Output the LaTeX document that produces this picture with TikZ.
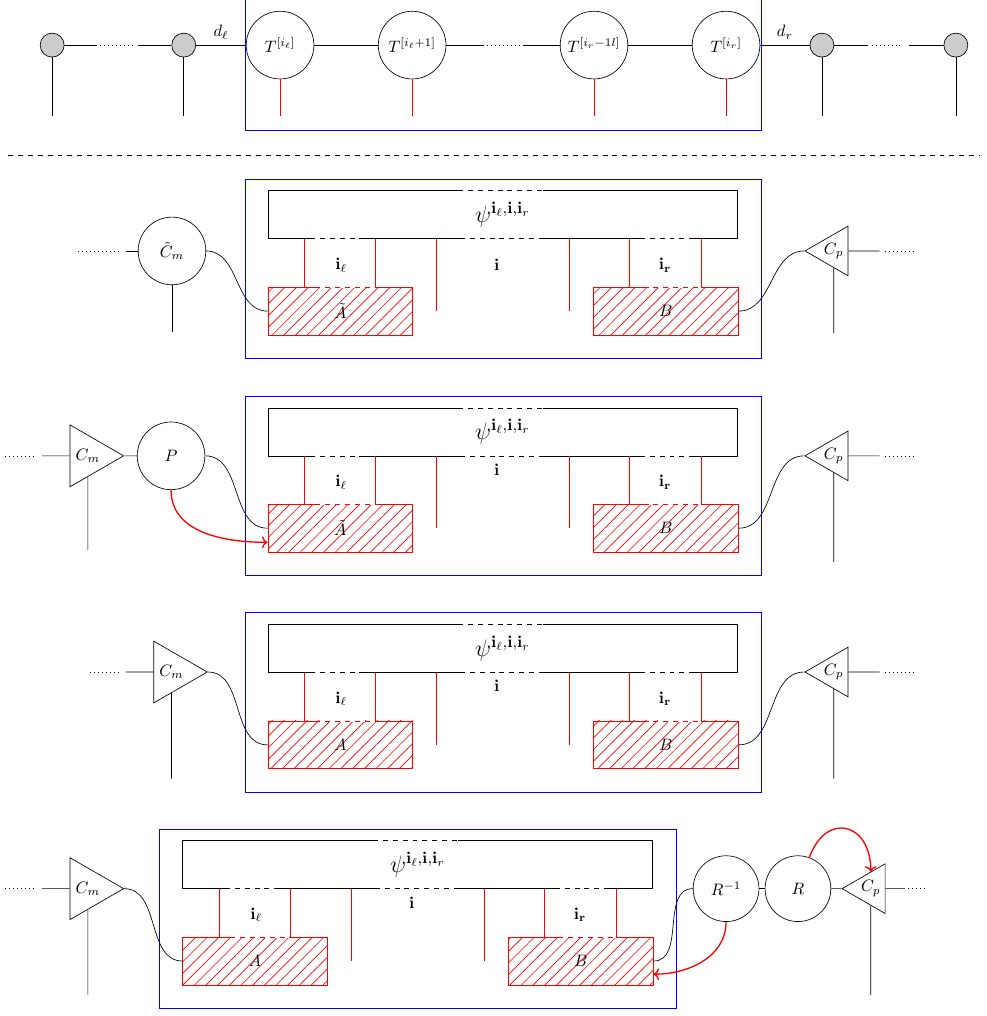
\documentclass[tikz,border=0pt]{standalone}
\usepackage{amsmath}
\usetikzlibrary{positioning, shapes.geometric, patterns.meta, arrows.meta}

\begin{document}
\begin{tikzpicture}[
        site/.style={draw, circle, fill=gray!40, minimum size=0.51cm, inner sep=0},
        tens/.style={draw, circle, minimum size=1.44cm, inner sep=0},
        tri/.style={draw, regular polygon, regular polygon sides=3, inner sep=0, minimum size=1.22cm},
        pointleft/.style={tri, shape border rotate=90},
        pointright/.style={tri, shape border rotate=-90, minimum size=1.52cm},
        psibox/.style={draw, rectangle, minimum width=10cm, minimum height=1.02cm, inner sep=0},
        hatched/.style={draw=red, rectangle, pattern={Lines[angle=45, distance=5pt]}, pattern color=red, minimum width=3.08cm, minimum height=1.02cm, inner sep=0},
        gap/.style={white, dashed, line width=0.9pt},
        dots/.style={dotted},
        redarrow/.style={->, red, thick}
    ]
    \useasboundingbox (0,0) rectangle (21.0,-21.62);

    % top chain
    \node[site] (g1) at (1.11,-0.96) {};
    \node[site] (g2) at (3.91,-0.96) {};
    \node[tens] (T1) at (5.96,-0.96) {$T^{[i_\ell]}$};
    \node[tens] (T2) at (8.77,-0.96) {$T^{[i_\ell+1]}$};
    \node[tens] (T3) at (12.64,-0.96) {$T^{[i_r-1l]}$};
    \node[tens] (T4) at (15.45,-0.96) {$T^{[i_r]}$};
    \node[site] (g3) at (17.49,-0.96) {};
    \node[site] (g4) at (20.34,-0.96) {};

    \draw (g1) -- (2.06,-0.96);
    \draw[dots] (2.13,-0.96) -- (2.81,-0.96);
    \draw (2.94,-0.96) -- (g2);
    \draw (g2) -- node[above] {$d_\ell$} (T1);
    \draw (T1) -- (T2);
    \draw (T2) -- (10.30,-0.96);
    \draw[dots] (10.36,-0.96) -- (11.06,-0.96);
    \draw (11.13,-0.96) -- (T3);
    \draw (T3) -- (T4);
    \draw (T4) -- node[above] {$d_r$} (g3);
    \draw (g3) -- (18.47,-0.96);
    \draw[dots] (18.55,-0.96) -- (19.21,-0.96);
    \draw (19.34,-0.96) -- (g4);
    \foreach \n in {g1,g2,g3,g4}
        \draw (\n) -- ++(0,-1.51);
    \foreach \n in {T1,T2,T3,T4}
        \draw[red] (\n) -- ++(0,-1.51);
    \draw[blue] (5.21,0.2) rectangle (16.21,-2.77);

    \draw[dashed] (0.17,-3.30) -- (20.85,-3.30);

    % central blocks
    \foreach \k/\dx/\dy/\alab/\iy in {1/0/0/\tilde{A}/0.55, 2/0/-4.62/\tilde{A}/0.28, 3/0/-9.23/A/0.28, 4/-1.81/-13.83/A/0.28} {
        \begin{scope}[shift={(\dx,\dy)}]
            \draw[blue] (5.21,-3.81) rectangle (16.21,-7.62);
            \node[psibox] (psi\k) at (10.70,-4.57) {\Large$\psi^{\mathbf{i}_\ell,\mathbf{i},\mathbf{i}_r}$};
            \node[hatched] (A\k) at (7.24,-6.62) {$\alab$};
            \node[hatched] (B\k) at (14.17,-6.62) {$B$};
            \foreach \x in {0.79,2.30,7.70,9.24}
                \draw[red] (psi\k.south west) ++(\x,0) -- ++(0,-1.02);
            \foreach \x in {3.60,6.43}
                \draw[red] (psi\k.south west) ++(\x,0) -- ++(0,-1.53);
            \draw[gap] (9.85,-4.06) -- (11.55,-4.06);
            \foreach \a/\b in {6.70/7.70, 9.89/11.55, 13.72/14.70}
                \draw[gap] (\a,-5.09) -- (\b,-5.09);
            \foreach \a/\b in {6.81/7.98, 13.80/14.92}
                \draw[gap] (\a,-6.11) -- (\b,-6.11);
            \node (il\k) at (7.26,-5.64) {$\mathbf{i}_\ell$};
            \node (i\k) at (10.57,{-5.09-\iy}) {$\mathbf{i}$};
            \node (ir\k) at (14.15,-5.64) {$\mathbf{i_r}$};
        \end{scope}
    }

    % panel 1
    \node[tens] (Cm1) at (3.66,-5.34) {$\tilde{C}_m$};
    \draw (Cm1) -- (2.68,-5.34);
    \draw[dots] (1.66,-5.34) -- (2.51,-5.34);
    \draw (Cm1) -- (3.66,-7.06);
    \draw (Cm1.east) to[out=0, in=180] (A1.west);
    \node[pointleft] (Cp1) at (17.74,-5.34) {$C_p$};
    \draw (B1.east) to[out=0, in=180] (Cp1.west);
    \draw (Cp1.east) -- (18.72,-5.34);
    \draw[dots] (18.83,-5.34) -- (19.47,-5.34);
    \draw (Cp1.south) -- (17.74,-7.09);

    % panel 2
    \node[pointright] (Cm2) at (1.87,-9.70) {$C_m$};
    \draw (Cm2.west) -- (0.89,-9.70);
    \draw[dots] (0.11,-9.70) -- (0.74,-9.70);
    \draw (Cm2.south) -- (1.87,-11.70);
    \node[tens] (P) at (3.64,-9.70) {$P$};
    \draw (Cm2.east) -- (P);
    \draw (P.east) to[out=0, in=180] (A2.west);
    \draw[redarrow] (P.south) to[out=-90, in=180] ([yshift=-0.3cm]A2.west);
    \node[pointleft] (Cp2) at (17.74,-9.70) {$C_p$};
    \draw (B2.east) to[out=0, in=180] (Cp2.west);
    \draw (Cp2.east) -- (18.72,-9.70);
    \draw[dots] (18.83,-9.70) -- (19.47,-9.70);
    \draw (Cp2.south) -- (17.74,-11.96);

    % panel 3
    \node[pointright] (Cm3) at (3.65,-14.30) {$C_m$};
    \draw (Cm3.west) -- (2.68,-14.30);
    \draw[dots] (1.91,-14.30) -- (2.51,-14.30);
    \draw (Cm3.south) -- (3.65,-16.57);
    \draw (Cm3.east) to[out=0, in=180] (A3.west);
    \node[pointleft] (Cp3) at (17.74,-14.30) {$C_p$};
    \draw (B3.east) to[out=0, in=180] (Cp3.west);
    \draw (Cp3.east) -- (18.72,-14.30);
    \draw[dots] (18.83,-14.30) -- (19.47,-14.30);
    \draw (Cp3.south) -- (17.74,-16.57);

    % panel 4
    \node[pointright] (Cm4) at (1.87,-18.91) {$C_m$};
    \draw (Cm4.west) -- (0.89,-18.91);
    \draw[dots] (0.11,-18.91) -- (0.74,-18.91);
    \draw (Cm4.south) -- (1.87,-21.17);
    \draw (Cm4.east) to[out=0, in=180] (A4.west);
    \node[tens, minimum size=1.40cm] (Rinv) at (15.45,-18.91) {$R^{-1}$};
    \node[tens, minimum size=1.40cm] (R) at (16.98,-18.91) {$R$};
    \node[pointleft] (Cp4) at (18.53,-18.91) {$C_p$};
    \draw (Rinv) -- (R);
    \draw (R) -- (Cp4.west);
    \draw (Cp4.east) -- (19.26,-18.91);
    \draw[dots] (19.32,-18.91) -- (19.72,-18.91);
    \draw (Cp4.south) -- (18.53,-21.17);
    \draw (B4.east) to[out=0, in=180] (Rinv.west);
    \draw[redarrow] (Rinv.south) to[out=-90, in=0] ([yshift=-0.28cm]B4.east);
    \draw[redarrow] (R.70) to[out=70, in=90, looseness=2] (Cp4.north);
\end{tikzpicture}
\end{document}
